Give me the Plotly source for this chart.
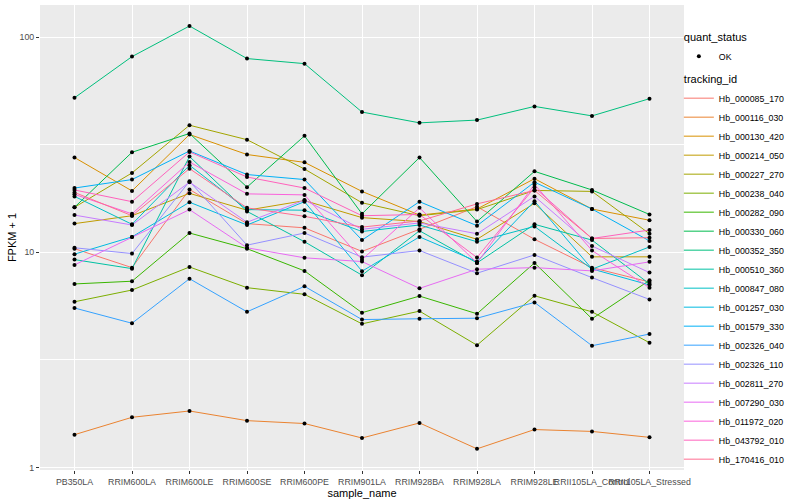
import plotly.graph_objects as go

samples = ["PB350LA", "RRIM600LA", "RRIM600LE", "RRIM600SE", "RRIM600PE", "RRIM901LA",
           "RRIM928BA", "RRIM928LA", "RRIM928LE", "RRII105LA_Control", "RRII105LA_Stressed"]

tracking_ids = ["Hb_000085_170", "Hb_000116_030", "Hb_000130_420", "Hb_000214_050", "Hb_000227_270",
                "Hb_000238_040", "Hb_000282_090", "Hb_000330_060", "Hb_000352_350", "Hb_000510_360",
                "Hb_000847_080", "Hb_001257_030", "Hb_001579_330", "Hb_002326_040", "Hb_002326_110",
                "Hb_002811_270", "Hb_007290_030", "Hb_011972_020", "Hb_043792_010", "Hb_170416_010"]

colors = ["#F8766D", "#EA8331", "#D89000", "#C09B00", "#A3A500", "#7CAE00", "#39B600", "#00BB4E",
          "#00BF7D", "#00C1A3", "#00BFC4", "#00BAE0", "#00B0F6", "#35A2FF", "#9590FF", "#C77CFF",
          "#E76BF3", "#FA62DB", "#FF62BC", "#FF6C91"]

# FPKM + 1 per sample (order of `samples`)
hb_000085_170 = [10.4, 8.49, 19.6, 13.6, 13.0, 10.1, 12.8, 16.3, 11.5, 8.49, 7.28]
hb_000116_030 = [1.42, 1.71, 1.83, 1.65, 1.60, 1.37, 1.61, 1.22, 1.50, 1.47, 1.38]
hb_000130_420 = [27.6, 19.3, 35.3, 28.5, 26.2, 19.2, 14.9, 15.9, 22.0, 15.9, 14.1]
hb_000214_050 = [13.6, 14.8, 18.8, 15.7, 17.4, 14.5, 13.9, 11.5, 16.9, 9.53, 9.53]
hb_000227_270 = [16.2, 23.4, 39.0, 33.4, 24.4, 17.0, 14.8, 15.8, 19.4, 19.2, 12.2]
hb_000238_040 = [5.89, 6.68, 8.55, 6.85, 6.38, 4.65, 5.33, 3.70, 6.28, 5.29, 3.80]
hb_000282_090 = [7.13, 7.34, 12.3, 10.4, 8.20, 5.24, 6.26, 5.18, 8.93, 4.91, 7.41]
hb_000330_060 = [16.2, 29.2, 35.7, 20.1, 34.8, 15.1, 27.6, 13.9, 23.8, 19.5, 15.0]
hb_000352_350 = [52.3, 81.3, 112.8, 79.6, 75.4, 44.9, 40.0, 41.2, 47.7, 43.1, 51.8]
hb_000510_360 = [9.25, 8.40, 27.9, 15.5, 11.2, 7.83, 12.6, 8.93, 13.5, 11.4, 7.13]
hb_000847_080 = [18.2, 13.5, 25.4, 15.8, 15.7, 12.5, 13.4, 11.2, 13.2, 8.35, 10.6]
hb_001257_030 = [9.81, 11.8, 17.1, 13.4, 17.2, 8.17, 11.8, 9.06, 17.3, 8.37, 7.05]
hb_001579_330 = [19.9, 21.8, 29.6, 23.0, 21.8, 11.4, 17.2, 13.3, 21.2, 15.9, 11.3]
hb_002326_040 = [5.51, 4.68, 7.54, 5.29, 6.95, 4.87, 4.91, 4.94, 5.85, 3.68, 4.17]
hb_002326_110 = [10.5, 9.87, 21.4, 10.8, 12.3, 9.50, 10.2, 8.00, 9.73, 7.63, 6.04]
hb_002811_270 = [14.9, 13.4, 21.2, 13.8, 17.5, 12.8, 13.7, 12.2, 18.2, 10.7, 8.05]
hb_007290_030 = [8.74, 11.8, 15.8, 10.5, 9.43, 9.06, 6.80, 8.35, 8.49, 8.20, 9.03]
hb_011972_020 = [18.6, 15.1, 26.3, 18.7, 18.5, 9.25, 16.1, 8.93, 20.7, 10.2, 6.85]
hb_043792_010 = [19.5, 17.2, 29.3, 22.4, 19.9, 14.8, 15.0, 9.46, 20.0, 11.6, 12.7]
hb_170416_010 = [19.0, 14.8, 24.5, 16.1, 14.7, 13.1, 14.0, 16.8, 19.4, 11.6, 11.7]

series = [hb_000085_170, hb_000116_030, hb_000130_420, hb_000214_050, hb_000227_270,
          hb_000238_040, hb_000282_090, hb_000330_060, hb_000352_350, hb_000510_360,
          hb_000847_080, hb_001257_030, hb_001579_330, hb_002326_040, hb_002326_110,
          hb_002811_270, hb_007290_030, hb_011972_020, hb_043792_010, hb_170416_010]

fig = go.Figure()

for i, (name, col, vals) in enumerate(zip(tracking_ids, colors, series)):
    fig.add_trace(go.Scatter(
        x=samples, y=vals, mode="lines", name=name,
        line=dict(color=col, width=1),
        legendgroup="tracking_id",
        legendgrouptitle=dict(text="tracking_id", font=dict(size=11, color="#000000")),
        legendrank=100 + i,
    ))

all_x = [s for vals in series for s in samples]
all_y = [v for vals in series for v in vals]
fig.add_trace(go.Scatter(
    x=all_x, y=all_y, mode="markers", name="OK",
    marker=dict(color="#000000", size=4),
    legendgroup="quant_status",
    legendgrouptitle=dict(text="quant_status", font=dict(size=11, color="#000000")),
    legendrank=1,
))

fig.update_layout(
    width=800, height=500,
    margin=dict(l=40, r=116, t=5, b=30, autoexpand=False),
    paper_bgcolor="#FFFFFF",
    plot_bgcolor="#EBEBEB",
    font=dict(family="Liberation Sans, Arial, sans-serif", size=9, color="#4D4D4D"),
    legend=dict(
        x=0.992, xanchor="left",
        y=0.962, yanchor="top",
        font=dict(size=8.8, color="#000000"),
        tracegroupgap=4,
        bgcolor="rgba(0,0,0,0)",
        traceorder="grouped",
    ),
    xaxis=dict(
        type="category", categoryorder="array", categoryarray=samples,
        range=[-0.6, 10.6],
        showgrid=True, gridcolor="#FFFFFF", gridwidth=1.1,
        zeroline=False,
        ticks="outside", ticklen=3, tickcolor="#333333", tickwidth=1,
        tickangle=0,
        tickfont=dict(size=8.8, color="#4D4D4D"),
        title=dict(text="sample_name", font=dict(size=11, color="#000000"), standoff=0),
    ),
    yaxis=dict(
        type="log", range=[-0.012, 2.15],
        tickvals=[1, 10, 100], ticktext=["1", "10", "100"],
        showgrid=True, gridcolor="#FFFFFF", gridwidth=1.1,
        zeroline=False,
        ticks="outside", ticklen=3, tickcolor="#333333", tickwidth=1,
        tickfont=dict(size=8.8, color="#4D4D4D"),
        minor=dict(tickvals=[3.1623, 31.623], showgrid=True, gridcolor="#FFFFFF", gridwidth=0.5, ticks=""),
        title=dict(text="FPKM + 1", font=dict(size=11, color="#000000"), standoff=0),
    ),
)

fig.write_html("out.html", config={"displayModeBar": False},
               post_script="document.body.style.margin='0';")
